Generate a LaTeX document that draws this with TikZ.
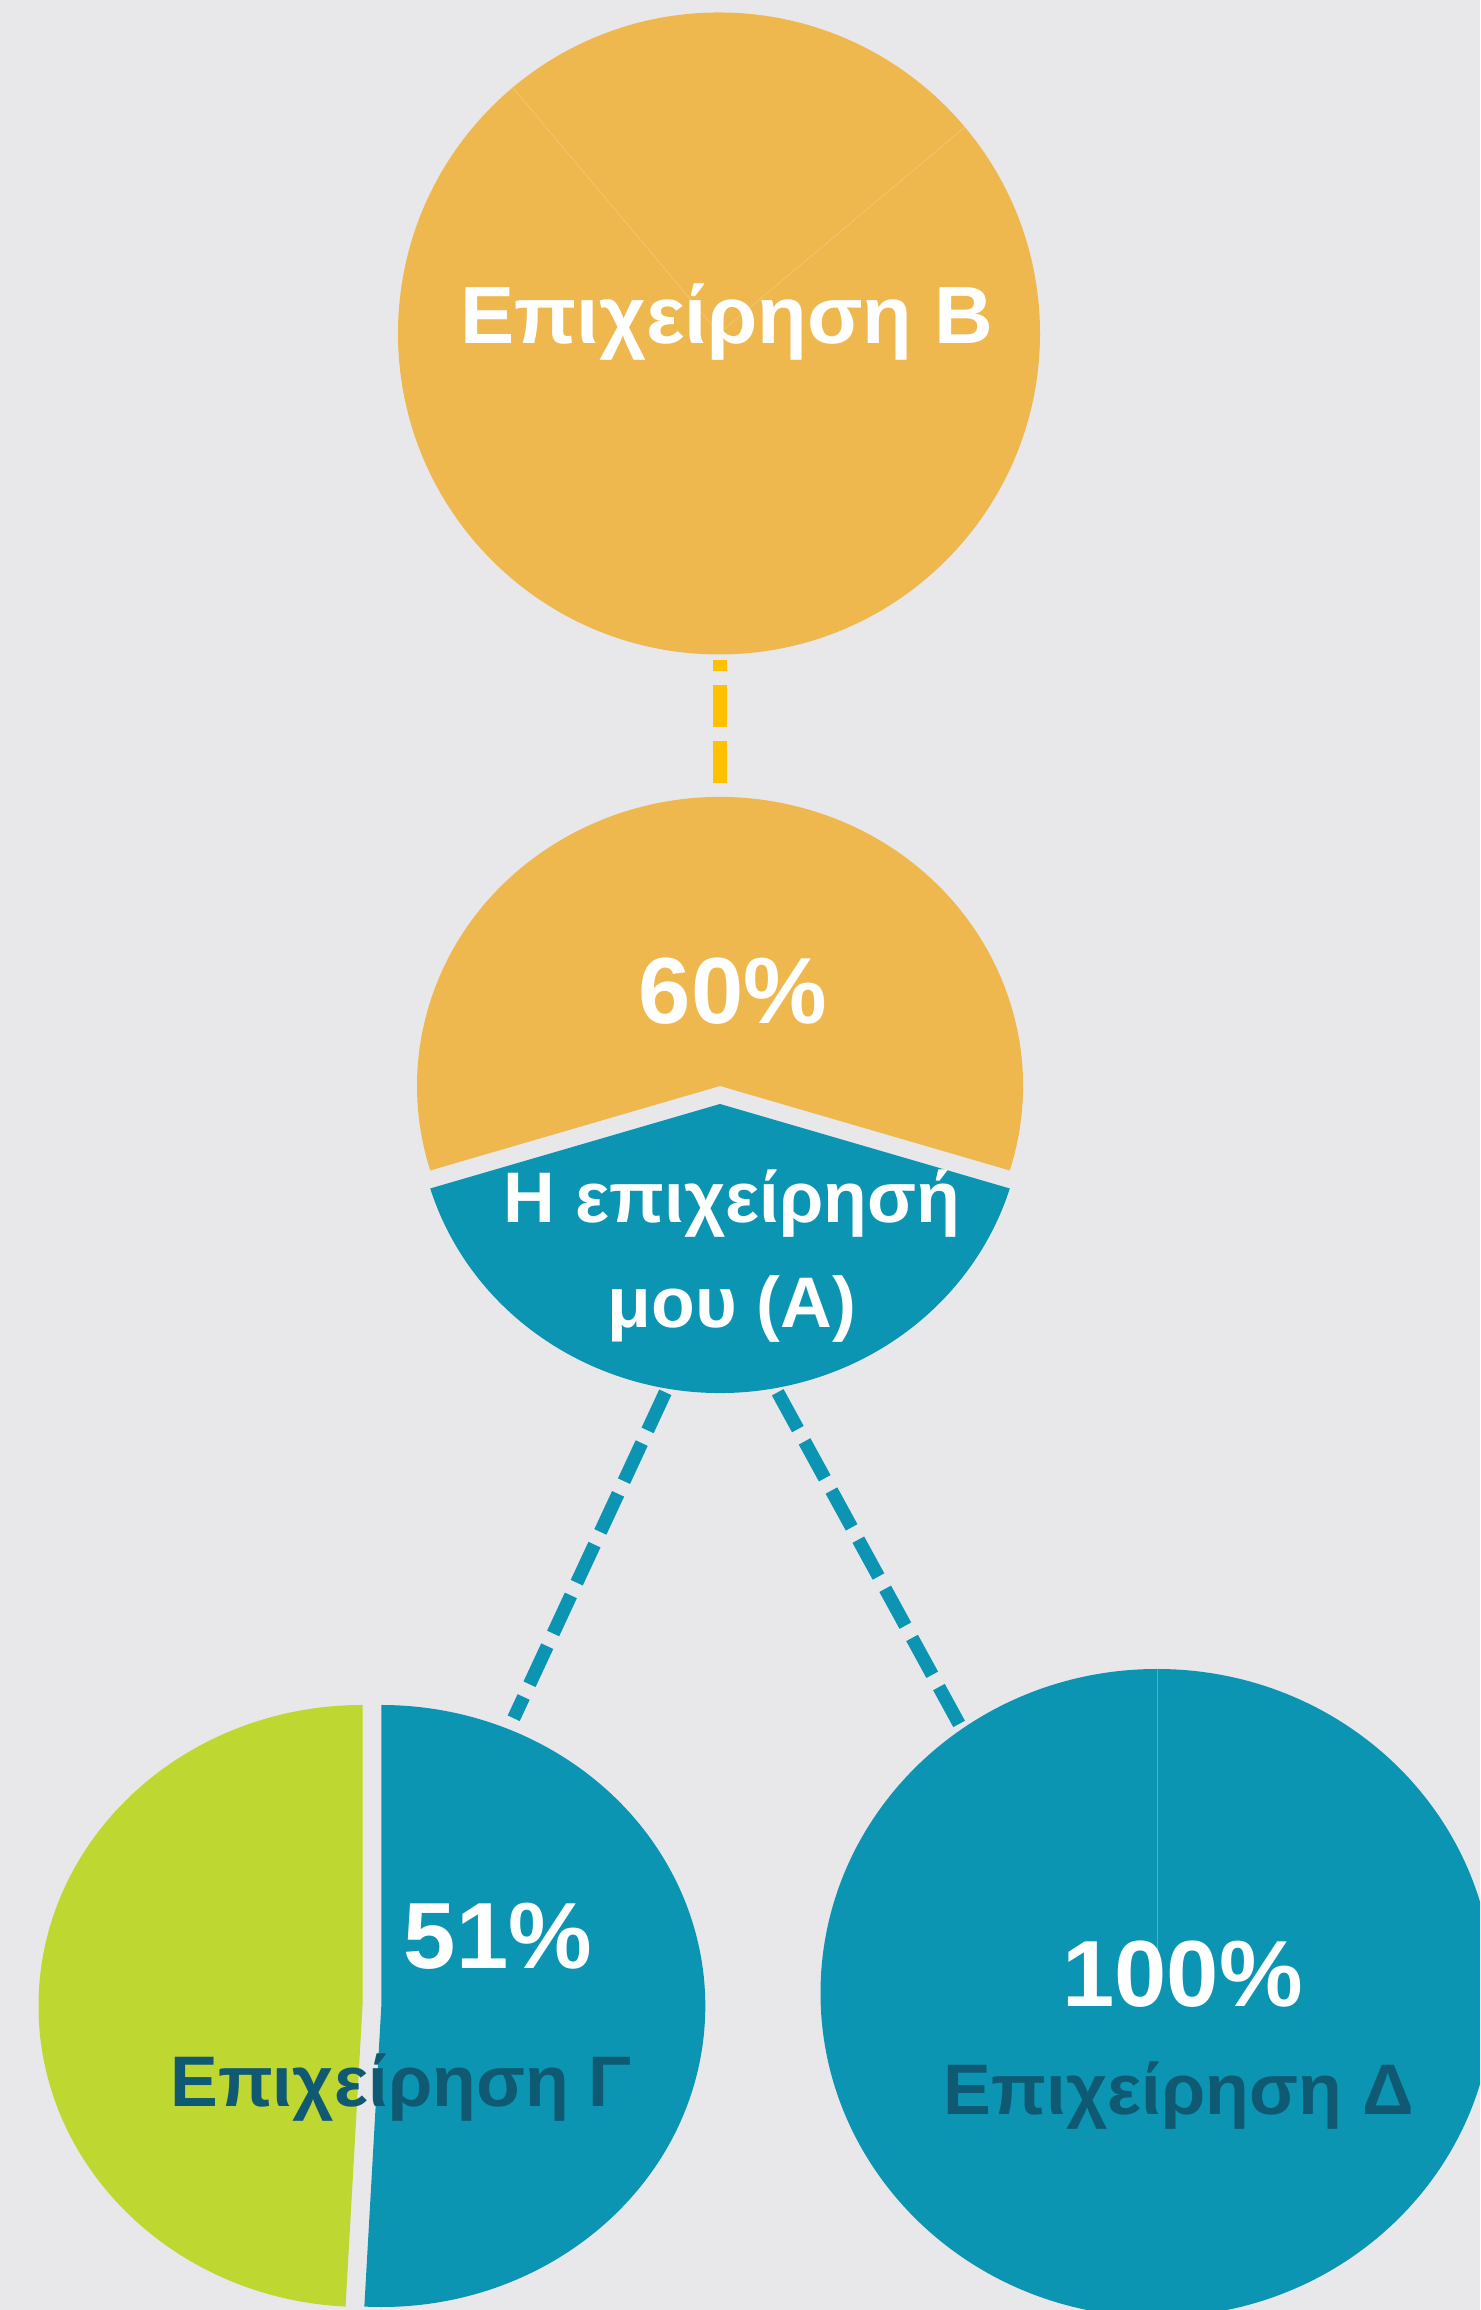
\documentclass[tikz,border=0pt]{standalone}
\usepackage{fontspec}
\setmainfont{Liberation Sans}
\definecolor{bg}{HTML}{E8E8EA}
\definecolor{gold}{HTML}{EFB84F}
\definecolor{goldseam}{HTML}{F3C369}
\definecolor{dashgold}{HTML}{FFC000}
\definecolor{cteal}{HTML}{0B95B3}
\definecolor{tealseam}{HTML}{4FB0C8}
\definecolor{lime}{HTML}{BED731}
\definecolor{darkteal}{HTML}{0F5A72}
\begin{document}
\begin{tikzpicture}[x=0.5pt,y=0.5pt,
  pctlabel/.style={text=white,font=\bfseries\fontsize{47}{56}\selectfont,anchor=base,inner sep=0pt},
  namelabel/.style={font=\bfseries\fontsize{35.8}{43}\selectfont,anchor=base,inner sep=0pt},
  toplabel/.style={text=white,font=\bfseries\fontsize{40.6}{48}\selectfont,anchor=base,inner sep=0pt},
  tealdash/.style={draw=cteal,line width=6.65pt,dash pattern=on 21pt off 7pt},
  golddash/.style={draw=dashgold,line width=7pt,dash pattern=on 21pt off 7pt},
  seam/.style={line width=0.5pt}]
\useasboundingbox (0,0) rectangle (1480,2310);
\clip (0,0) rectangle (1480,2310);
\fill[bg] (0,0) rectangle (1480,2310);

% connector end points
\coordinate (Bbot) at (720,1650);
\coordinate (Atop) at (720,1526.7);
\coordinate (Abl) at (665.3,917.7);
\coordinate (Ctop) at (513.7,591.7);
\coordinate (Abr) at (777.7,917.7);
\coordinate (Dtop) at (959.3,585.7);

% connectors
\draw[golddash] (Atop) -- (Bbot);
\draw[tealdash] (Abl) -- (Ctop);
\draw[tealdash] (Abr) -- (Dtop);

% company B
\coordinate (Bc) at (719,1976.5);
\fill[gold] (Bc) circle[radius=321];
\draw[goldseam,seam] (Bc) -- ++(130:321);
\draw[goldseam,seam] (Bc) -- ++(40:321);

% company A (exploded pie 60/40)
\coordinate (Ay) at (720,1224);
\coordinate (At) at (720,1206);
\fill[gold] (Ay) -- ++(-17:303 and 289) arc[start angle=-17,end angle=197,x radius=303,y radius=289] -- cycle;
\fill[cteal] (At) -- ++(197:303 and 289) arc[start angle=197,end angle=343,x radius=303,y radius=289] -- cycle;

% company C (exploded pie 49/51)
\coordinate (Cg) at (362.5,304);
\coordinate (Ct) at (381.3,304);
\fill[lime] (Cg) -- ++(90:324 and 301) arc[start angle=90,end angle=267,x radius=324,y radius=301] -- cycle;
\fill[cteal] (Ct) -- ++(267:324 and 301) arc[start angle=267,end angle=450,x radius=324,y radius=301] -- cycle;

% company D (100%)
\coordinate (Dc) at (1157,317);
\fill[cteal] (Dc) ellipse[x radius=336.5,y radius=324];
\draw[tealseam,seam] (Dc) -- ++(0,324);

% labels
\node[toplabel] (labB) at (727,1966.5) {Επιχείρηση Β};
\node[pctlabel] (lab60) at (733,1286) {60\%};
\node[namelabel,text=white] (labA1) at (732,1087) {Η επιχείρησή};
\node[namelabel,text=white] (labA2) at (732,982.4) {μου (Α)};
\node[pctlabel] (lab51) at (498,341) {51\%};
\node[namelabel,text=darkteal] (labC) at (401,203.4) {Επιχείρηση Γ};
\node[pctlabel] (lab100) at (1182.5,303) {100\%};
\node[namelabel,text=darkteal] (labD) at (1178.6,195) {Επιχείρηση Δ};
\end{tikzpicture}
\end{document}
